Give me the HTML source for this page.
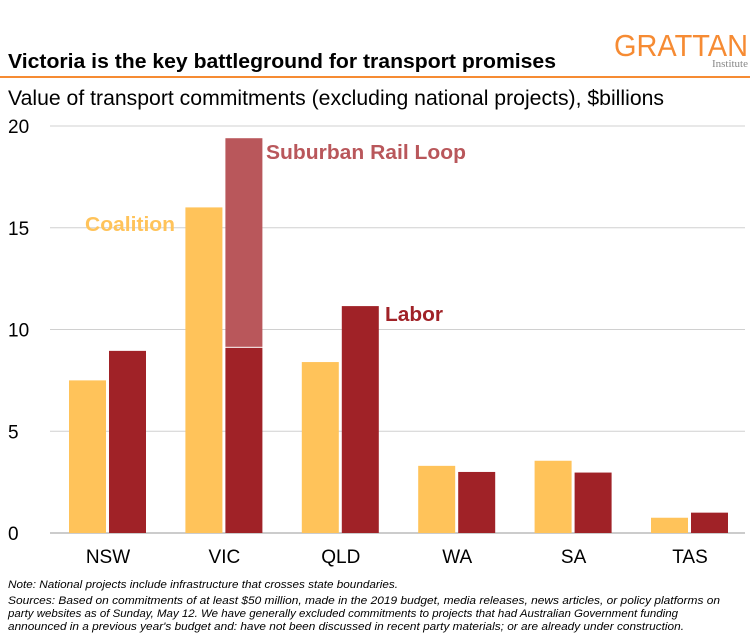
<!DOCTYPE html>
<html><head><meta charset="utf-8"><style>
body{margin:0;background:#fff;width:754px;height:634px;overflow:hidden;font-family:"Liberation Sans",Arial,sans-serif}
svg{position:absolute;left:0;top:0}
</style></head><body>
<svg id="c" width="754" height="634">
<text x="8" y="68" font-size="20" font-weight="bold" fill="#000" textLength="548" lengthAdjust="spacingAndGlyphs">Victoria is the key battleground for transport promises</text>
<text x="614" y="56" font-size="31" fill="#f68b33" textLength="134" lengthAdjust="spacingAndGlyphs">GRATTAN</text>
<text x="748" y="67" font-size="11" fill="#888" text-anchor="end" font-family="Liberation Serif,serif">Institute</text>
<rect x="0" y="76" width="750" height="2" fill="#f68b33"/>
<text x="8" y="105" font-size="21" fill="#000" textLength="656" lengthAdjust="spacingAndGlyphs">Value of transport commitments (excluding national projects), $billions</text>
<g id="grid"></g><g id="bars"></g><g id="labels"></g>
<text x="85" y="231" font-size="20" font-weight="bold" fill="#ffc35a" textLength="90" lengthAdjust="spacingAndGlyphs">Coalition</text>
<text x="385" y="321" font-size="20" font-weight="bold" fill="#a02227" textLength="58" lengthAdjust="spacingAndGlyphs">Labor</text>
<text x="266" y="159" font-size="20" font-weight="bold" fill="#b9575b" textLength="200" lengthAdjust="spacingAndGlyphs">Suburban Rail Loop</text>
<g font-size="11" font-style="italic" fill="#000">
<text x="8" y="588" textLength="390" lengthAdjust="spacingAndGlyphs">Note: National projects include infrastructure that crosses state boundaries.</text>
<text x="8" y="604" textLength="712" lengthAdjust="spacingAndGlyphs">Sources: Based on commitments of at least $50 million, made in the 2019 budget, media releases, news articles, or policy platforms on</text>
<text x="8" y="617" textLength="670" lengthAdjust="spacingAndGlyphs">party websites as of Sunday, May 12. We have generally excluded commitments to projects that had Australian Government funding</text>
<text x="8" y="630" textLength="676" lengthAdjust="spacingAndGlyphs">announced in a previous year's budget and: have not been discussed in recent party materials; or are already under construction.</text>
</g>
</svg>
<script>
const categories=["NSW","VIC","QLD","WA","SA","TAS"];
const coalition=[7.5,16.0,8.4,3.3,3.55,0.75];
const labor=[8.95,9.1,11.15,3.0,2.97,1.0];
const srl=[0,10.3,0,0,0,0];
const yTicks=[0,5,10,15,20];
const NS="http://www.w3.org/2000/svg";
const y=v=>533-v*20.35;
const xc=i=>108+i*116.4;
function mk(tag,attrs,parent){const e=document.createElementNS(NS,tag);for(const k in attrs)e.setAttribute(k,attrs[k]);document.getElementById(parent).appendChild(e);return e;}
yTicks.forEach(t=>{
 const l=mk('line',{x1:50,x2:745,y1:y(t),y2:y(t),stroke:t===0?'#999':'#d0d0d0','stroke-width':1},'grid');
 
 
 const tx=mk('text',{x:8,y:y(t)+7,'font-size':19},'grid');tx.textContent=t;
 
 
});
categories.forEach((c,i)=>{
 const b1=mk('rect',{x:xc(i)-39,y:y(coalition[i]),width:37,height:y(0)-y(coalition[i]),fill:'#ffc35a'},'bars');
 
 
 const b2=mk('rect',{x:xc(i)+1,y:y(labor[i]),width:37,height:y(0)-y(labor[i]),fill:'#a02227'},'bars');
 
 
 if(srl[i]>0){
  const b3=mk('rect',{x:xc(i)+1,y:y(labor[i]+srl[i]),width:37,height:y(labor[i])-y(labor[i]+srl[i])-1,fill:'#b9575b'},'bars');
  
  
 }
 const t=mk('text',{x:xc(i),y:563,'font-size':19,'text-anchor':'middle'},'labels');t.textContent=c;
 
 
});
</script>
</body></html>
